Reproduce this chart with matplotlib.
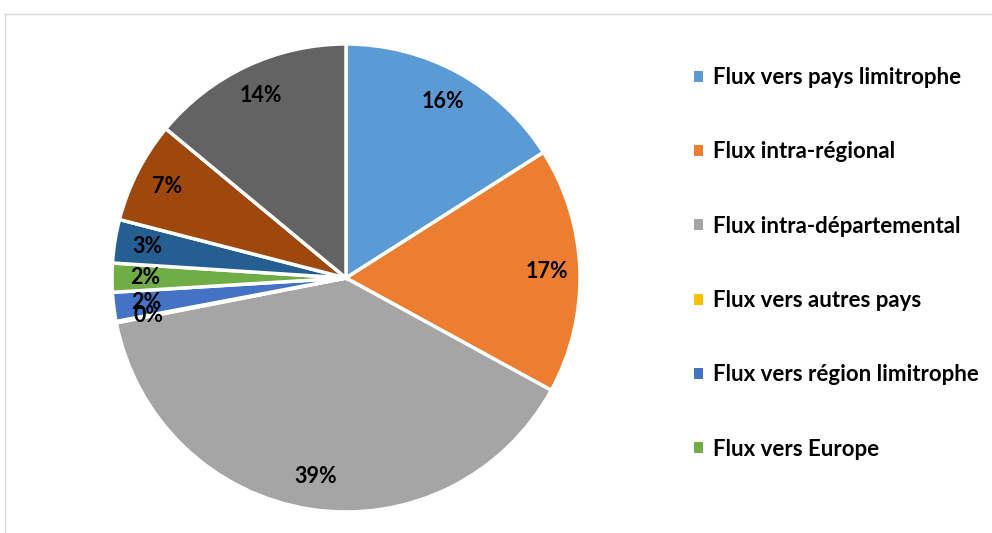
import matplotlib.pyplot as plt
from matplotlib.patches import Patch
from matplotlib.lines import Line2D

# values (percent)
categories = ['Flux vers pays limitrophe', 'Flux intra-régional', 'Flux intra-départemental',
              'Flux vers autres pays', 'Flux vers région limitrophe', 'Flux vers Europe',
              'Flux vers DOM', 'Flux vers autres régions', 'Flux inconnu']
shares = [16, 17, 39, 0.1, 2, 2, 3, 7, 14]
colors = ['#5B9BD5', '#ED7D31', '#A5A5A5', '#FFC000', '#4472C4', '#70AD47',
          '#255E91', '#9E480E', '#636363']
n_legend = 6  # legend is cut after six entries in the original

W, H = 992, 533
fig = plt.figure(figsize=(W / 100, H / 100), dpi=100)

# light frame (only top and left edges visible)
fig.add_artist(Line2D([4.5 / W, 1], [1 - 13.5 / H, 1 - 13.5 / H], color='#d9d9d9', lw=1))
fig.add_artist(Line2D([4.5 / W, 4.5 / W], [0, 1 - 13.5 / H], color='#d9d9d9', lw=1))

cx, cy, r = 346, 278, 234
ax = fig.add_axes([(cx - r) / W, (H - cy - r) / H, 2 * r / W, 2 * r / H])
wedges, texts, autotexts = ax.pie(
    shares, colors=colors, startangle=90, counterclock=False, radius=1,
    autopct=lambda p: f'{p:.0f}%', pctdistance=0.86,
    wedgeprops=dict(edgecolor='white', linewidth=2.5),
    textprops=dict(fontsize=15.5, fontweight='bold', color='black', family='Lato'))
ax.set_xlim(-1, 1)
ax.set_ylim(-1, 1)
ax.set_aspect('equal')

handles = [Patch(facecolor=c, edgecolor='none') for c in colors[:n_legend]]
fig.legend(handles, categories[:n_legend], loc='upper left',
           bbox_to_anchor=(683 / W, 1 - 56 / H), frameon=False,
           prop=dict(family='Lato', weight='bold', size=16),
           handlelength=0.38, handleheight=0.38, handletextpad=0.45,
           labelspacing=2.4, borderpad=0)

fig.savefig('out.png', dpi=100)
